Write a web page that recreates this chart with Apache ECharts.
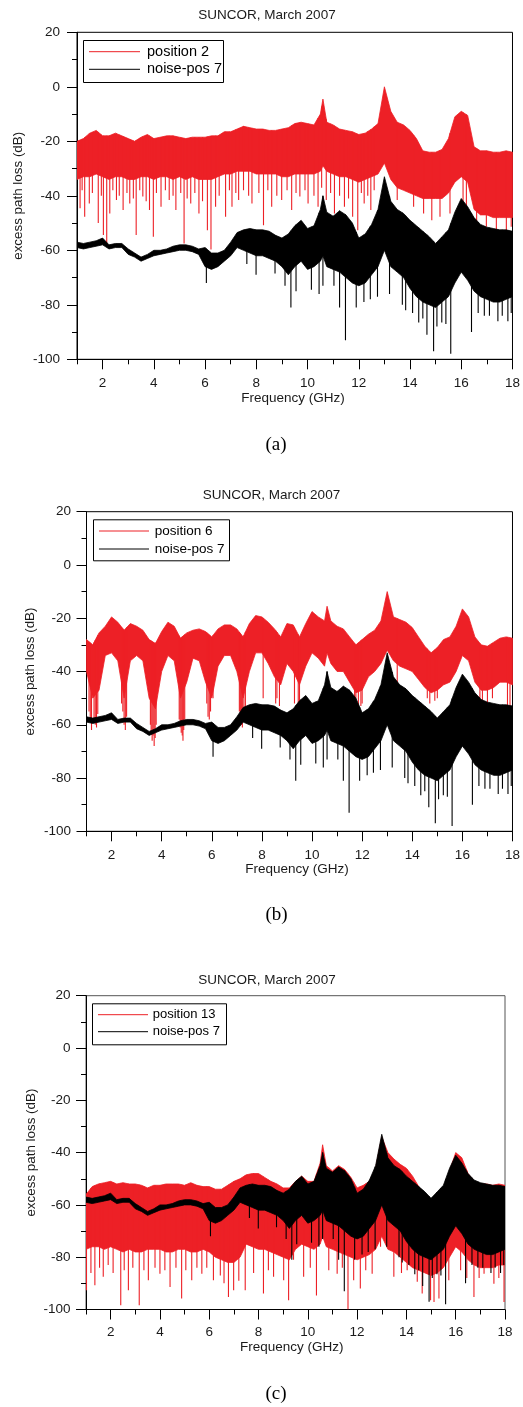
<!DOCTYPE html>
<html><head><meta charset="utf-8">
<script src="https://cdn.jsdelivr.net/npm/echarts@6/dist/echarts.min.js"></script>
<style>html,body{margin:0;padding:0;background:#fff}#c{width:523px;height:1407px}</style>
</head><body><div id="c"></div>
<script>
// ---------------- DATA ----------------
const FREQ = [1,1.25,1.5,1.75, 2,2.25,2.5,2.75, 3,3.25,3.5,3.75, 4,4.25,4.5,4.75, 5,5.25,5.5,5.75,
  6,6.25,6.5,6.75, 7,7.25,7.5,7.75, 8,8.25,8.5,8.75, 9,9.25,9.5,9.75, 10,10.25,10.5,10.6,10.75,
  11,11.25,11.5,11.75, 12,12.25,12.5,12.75, 13,13.25,13.5,13.75, 14,14.25,14.5,14.75,
  15,15.25,15.5,15.75, 16,16.25,16.5,16.75, 17,17.25,17.5,17.75, 18];
const X_MAJOR = [2,4,6,8,10,12,14,16,18];
const X_MINOR = [1,3,5,7,9,11,13,15,17];

// noise-pos 7 (same measurement in all three panels): upper / lower edge of the trace band
const NOISE_HI = [-57,-57.5,-57,-56.5, -55.5,-58,-57.5,-57.5, -59.5,-61,-62.5,-61.5, -60,-60,-59.5,-58.5,
  -58,-58,-58.5,-59.5, -59,-61,-61,-60, -57,-53.5,-52.5,-52, -52.5,-52.5,-53,-54.5, -55.5,-54,-51,-49,
  -52,-51,-45,-40,-46, -47.5,-45.5,-47,-50, -55.5,-54,-50.5,-45, -33,-42,-45,-46.5, -49,-51,-53,-55,
  -57.5,-55,-52.5,-46, -41,-44,-48,-50.5, -51.5,-52,-52.5,-52.5, -53];
const NOISE_LO = [-59,-59.5,-59,-58.5, -58,-59.5,-59,-59, -61.5,-62.5,-64,-63, -62,-61.5,-61,-60.5,
  -60,-60,-60.5,-61.5, -66,-67,-66,-64, -62,-59,-60,-61, -62,-62,-63,-64, -66,-69,-66,-64,
  -67,-66,-64,-62,-66, -67,-68,-70,-72, -73,-72,-69,-66, -60,-66,-68,-70, -74,-77,-79,-80,
  -81,-79,-77,-72, -68,-71,-75,-77, -78,-79,-79,-78, -77];
const NOISE_SPIKES = [[6.05,-72],[7.63,-65],[7.99,-69],[8.73,-68.5],[9.12,-73],[9.35,-81],[9.55,-75],
  [10.15,-74.5],[10.45,-76],[10.6,-73],[11.03,-73],[11.25,-81],[11.48,-93],[11.9,-81],[12.2,-79],
  [12.45,-78],[12.73,-77],[13.2,-76],[13.7,-80],[13.83,-82],[14.1,-83],[14.34,-86.5],[14.5,-85],
  [14.66,-91],[14.92,-97],[15.05,-88],[15.24,-86.5],[15.4,-87],[15.59,-98],[16.4,-90],[16.66,-83],
  [16.9,-84],[17.1,-84],[17.43,-86],[17.6,-84],[17.82,-86],[17.95,-83]];

// position 2
const POS2_HI = [-20,-19,-17,-16, -18,-18,-17,-18, -19,-20,-18.5,-17.5, -19,-18.5,-18,-18,
  -18.5,-19,-18.5,-18.5, -18.5,-18,-18,-16.5, -16.5,-15.5,-14.5,-15, -15.5,-15.5,-16,-16,
  -15.5,-15,-13.5,-13, -13.5,-14,-10,-4.5,-13, -14,-15.5,-16,-16.5, -17.5,-17,-15.5,-13.5,
  0,-9,-13,-14, -16,-19,-23.5,-24, -24,-23,-19,-11, -9,-10.5,-22,-23.5, -23.5,-24,-24,-23.5, -24];
const POS2_LO = [-34,-33,-33,-32, -33,-34,-33,-33, -34,-34,-33,-33, -34,-33,-33,-34, -33,-34,-33,-34,
  -34,-34,-33,-32, -32,-31,-31,-31, -32,-32,-32,-32, -33,-33,-32,-32, -32,-32,-31,-29,-31,
  -32,-33,-33,-34, -35,-34,-33,-32, -28,-34,-37,-38, -39,-40,-41,-41, -41,-41,-39,-35,
  -33,-35,-45,-47, -47,-48,-48,-48, -48];
const POS2_SPIKES = [[1.12,-44.6],[1.2,-38],[1.3,-47.7],[1.48,-42.8],[1.6,-39],[1.83,-50],[1.95,-40],
  [2.03,-54.4],[2.16,-57.5],[2.28,-46.5],[2.4,-38],[2.54,-41.5],[2.65,-40],[2.8,-45.2],[2.95,-39],
  [3.06,-42.8],[3.2,-41],[3.31,-54.4],[3.45,-38],[3.57,-40.3],[3.7,-42],[3.83,-45.2],[3.98,-55],
  [4.1,-39],[4.28,-44],[4.45,-38],[4.6,-41.5],[4.75,-40],[4.86,-45.2],[5.05,-39],[5.18,-57.5],
  [5.3,-41],[5.44,-42.8],[5.6,-39],[5.76,-46.5],[5.9,-42],[6.09,-52.6],[6.23,-59.7],[6.41,-44],
  [6.55,-40],[6.8,-47.7],[6.95,-38],[7.05,-44],[7.2,-39],[7.31,-41.5],[7.5,-38],[7.7,-40],[7.83,-42.8],
  [8.1,-39],[8.28,-50.8],[8.45,-38],[8.6,-44],[8.8,-40],[8.99,-41.5],[9.2,-38],[9.38,-45.2],[9.55,-39],
  [9.7,-40.3],[9.9,-38],[10.02,-42.8],[10.25,-40],[10.41,-44],[10.55,-37],[10.73,-41.5],[10.9,-39],
  [11.05,-46.5],[11.25,-40],[11.44,-44],[11.6,-41],[11.76,-47.7],[11.96,-52.6],[12.1,-39],[12.21,-42.8],
  [12.35,-40],[12.47,-45.2],[12.6,-38],[13.5,-41.5],[14.14,-44],[14.53,-46.5],[14.85,-49],
  [15.17,-47.7],[15.56,-46.5],[16.07,-42.8],[16.2,-55],[16.6,-50],[16.98,-51.4],[17.37,-52.6],
  [17.76,-52.6],[17.95,-51.4]];

// position 6
const POS6_HI = [-28,-30,-25.5,-23, -19.5,-21.5,-24.5,-22, -23,-24.5,-28,-29.5, -25,-21.5,-23,-27.5,
  -25.5,-24.5,-24,-25, -27,-24,-22.5,-22.5, -24,-27,-22,-19, -19.5,-21.5,-24,-27, -22,-22.5,-27,-22,
  -17.5,-19.5,-21,-15.5,-21, -23,-24,-27,-30, -28,-26,-24.5,-21, -10,-19.5,-20.5,-21.5,
  -23.5,-27,-30.5,-33, -31,-28,-27,-23, -16.5,-19.5,-27,-30, -30.5,-29,-27.5,-27, -27.5];
const POS6_LO = [-40,-50,-47,-34, -33,-36,-50,-36, -34,-36,-50,-54, -40,-34,-36,-50, -44,-35,-36,-44,
  -50,-38,-34,-34, -40,-50,-40,-33, -33,-37,-42,-45, -37,-40,-45,-38, -33,-35,-38,-33,-37,
  -40,-40,-44,-48, -47,-42,-40,-37, -32,-36,-38,-39, -40,-43,-46,-48, -47,-45,-44,-40,
  -34,-36,-44,-47, -47,-46,-44,-44, -45];
const POS6_SPIKES = [[1.1,-55],[1.15,-58],[1.2,-62],[1.3,-58],[1.35,-60],[1.4,-61],[1.45,-56],[2.4,-52],
  [2.45,-55],[2.5,-60],[2.55,-62],[2.6,-57],[3.55,-60],[3.58,-63],[3.62,-66],[3.66,-64],[3.7,-68],
  [3.74,-65],[3.78,-60],[4.7,-58],[4.74,-61],[4.78,-63],[4.82,-64],[4.85,-66],[4.88,-62],[4.92,-58],
  [5.8,-52],[5.85,-57],[5.9,-58],[5.95,-55],[6.05,-50],[7.1,-55],[7.14,-57],[7.18,-60],[7.22,-61],
  [7.28,-58],[7.34,-54],[8.05,-50],[8.55,-52],[8.6,-50],[8.7,-53],[9.3,-52],[9.45,-55],[9.5,-53],
  [11.7,-52],[11.75,-54],[11.85,-55],[11.95,-53],[12.0,-52],[13.4,-48],[14.6,-50],[14.7,-52],
  [14.9,-51],[15.0,-50],[16.7,-50],[16.8,-51],[17.0,-52],[17.2,-50],[17.8,-55],[17.9,-53]];

// position 13
const POS13_HI = [-56,-53,-52,-51.5, -51,-52,-51.5,-52, -52,-52.5,-53.5,-52.5, -52.5,-52,-52,-52,
  -52.5,-51.5,-52.5,-53, -53,-54,-54,-52.5, -51,-50,-48.5,-48, -48,-49.5,-51,-52, -53.5,-53.5,-51,-49,
  -51,-51,-44,-37,-45, -47,-45,-46.5,-49.5, -53.5,-52.5,-51,-46, -34,-40,-42.5,-44.5,
  -46,-49,-53,-56, -58,-57,-55,-47, -40,-42,-48,-51, -52,-52,-52.5,-52, -52.5];
const POS13_LO = [-77,-76,-76,-77, -76,-77,-78,-77, -78,-78,-77,-77, -77,-78,-78,-77, -77,-78,-78,-77,
  -78,-80,-81,-82, -82,-80,-75,-76, -77,-77,-78,-79, -80,-81,-77,-75, -76,-77,-75,-72,-76,
  -77,-78,-79,-80, -81,-80,-79,-77, -72,-77,-78,-80, -82,-84,-85,-86, -87,-86,-84,-80,
  -76,-78,-81,-83, -84,-84,-84,-83, -83];
const POS13_SPIKES = [[1.02,-92.6],[1.2,-86],[1.36,-90.7],[1.55,-84],[1.7,-87.5],[1.9,-83],[2.1,-86],
  [2.41,-98.4],[2.55,-85],[2.72,-92.6],[2.9,-84],[3.16,-98.4],[3.35,-85],[3.53,-88.8],[3.8,-84],
  [4.0,-86.3],[4.2,-85],[4.41,-91.4],[4.65,-84],[4.88,-95.8],[5.05,-85],[5.29,-88.8],[5.5,-84],
  [5.7,-86.3],[5.9,-84],[6.17,-88.8],[6.45,-87],[6.6,-90],[6.78,-95.2],[6.99,-92.6],[7.2,-89],
  [7.46,-92.6],[7.8,-86],[8.2,-93.9],[8.4,-85],[8.61,-87.5],[9.02,-88.8],[9.22,-96.5],[9.42,-81],
  [9.83,-87.5],[10.1,-84],[10.35,-94.6],[10.85,-85],[11.19,-86.3],[11.4,-84],[11.63,-100],
  [11.86,-88.8],[12.13,-92],[12.35,-85],[12.61,-86.3],[12.95,-76],[13.49,-87.5],[13.8,-86],
  [14.03,-85],[14.44,-89.4],[14.64,-93.9],[14.98,-96.5],[15.12,-97.1],[15.32,-95.8],[15.72,-88.8],
  [16.2,-85],[16.45,-88],[16.74,-95.2],[16.95,-88],[17.15,-86.3],[17.55,-90.2],[17.75,-88],[17.96,-97.1]];

// ---------------- CHART ----------------
const RED = '#ed2026';
const BLACK = '#000';
const SANS = '"Liberation Sans", Arial, sans-serif';
const SERIF = '"Liberation Serif", "Times New Roman", serif';

const PANELS = [
  { grid:{left:77, top:32.3, width:439, height:327}, name:'position 2', hi:POS2_HI, lo:POS2_LO, sp:POS2_SPIKES,
    title:[267,15.7], ylab:[18], xlab:[293,398.3], cap:['(a)',276,445], lblMargin:17, ylMargin:17, border:'#000',
    leg:{x:83,y:40,w:140,h:42,l0:89,l1:140,r0:51.7,r1:69.3,tx:147,fs:14.5} },
  { grid:{left:86.5, top:511.7, width:428.5, height:319.6}, name:'position 6', hi:POS6_HI, lo:POS6_LO, sp:POS6_SPIKES,
    title:[271.5,495], ylab:[30], xlab:[297,869.3], cap:['(b)',276.5,915], lblMargin:17, ylMargin:15.5, border:'#000',
    leg:{x:93,y:519.3,w:136,h:41,l0:99,l1:149,r0:531,r1:549,tx:154.7,fs:13.5} },
  { grid:{left:86, top:995.7, width:419, height:313.8}, name:'position 13', hi:POS13_HI, lo:POS13_LO, sp:POS13_SPIKES,
    title:[267,980], ylab:[31], xlab:[291.7,1347.3], cap:['(c)',276,1394], lblMargin:16, ylMargin:15.5, border:'#555',
    leg:{x:92,y:1003.3,w:134,h:41,l0:98,l1:148,r0:1014.7,r1:1031.7,tx:152.7,fs:13} }
];

function interp(arr, f) {
  for (let i = 0; i < FREQ.length - 1; i++) {
    if (f >= FREQ[i] && f <= FREQ[i+1]) {
      const t = (f - FREQ[i]) / (FREQ[i+1] - FREQ[i]);
      return arr[i] + t * (arr[i+1] - arr[i]);
    }
  }
  return arr[arr.length-1];
}

// whole band drawn as one polygon (upper edge left->right, lower edge right->left)
function bandSeries(name, color, idx, hi, lo) {
  return {
    type:'custom', name, xAxisIndex: idx*2, yAxisIndex: idx, clip:true, silent:true,
    itemStyle:{color},
    data: FREQ.map((f,i)=>[f, hi[i], lo[i]]),
    renderItem: (params, api) => {
      if (params.dataIndexInside !== 0) return null;
      const n = params.dataInsideLength;
      const top = [], bot = [];
      for (let j = 0; j < n; j++) {
        const f = api.value(0, j);
        top.push(api.coord([f, api.value(1, j)]));
        bot.push(api.coord([f, api.value(2, j)]));
      }
      return { type:'polygon', shape:{ points: top.concat(bot.reverse()) },
        style:{ fill:color, stroke:color, lineWidth:0.8, lineJoin:'round' } };
    }
  };
}

function spikeSeries(name, color, idx, hi, spikes) {
  return {
    type:'custom', name, xAxisIndex: idx*2, yAxisIndex: idx, clip:true, silent:true,
    itemStyle:{color},
    data: spikes,
    renderItem: (params, api) => {
      const f = api.value(0), v = api.value(1);
      const a = api.coord([f, interp(hi, f)]), b = api.coord([f, v]);
      return { type:'line', shape:{x1:a[0], y1:a[1], x2:b[0], y2:b[1]},
        style:{ stroke:color, lineWidth:1.1 } };
    }
  };
}

const grids = [], xAxes = [], yAxes = [], series = [], graphics = [];
PANELS.forEach((p, k) => {
  grids.push(Object.assign({ show:true, borderColor:p.border, borderWidth:1, backgroundColor:'transparent' }, p.grid));
  xAxes.push({ gridIndex:k, type:'value', position:'bottom', min:1, max:18,
    axisLine:{ show:true, onZero:false, lineStyle:{ color:'#000', width:1 } },
    axisTick:{ show:true, customValues:X_MAJOR, length:10, lineStyle:{ color:'#000' } },
    axisLabel:{ show:true, customValues:X_MAJOR, margin:p.lblMargin, color:'#1a1a1a', fontSize:13.5, fontFamily:SANS },
    splitLine:{ show:false } });
  xAxes.push({ gridIndex:k, type:'value', position:'bottom', min:1, max:18,
    axisLine:{ show:false, onZero:false },
    axisTick:{ show:true, customValues:X_MINOR, length:5, lineStyle:{ color:'#000' } },
    axisLabel:{ show:false }, splitLine:{ show:false } });
  yAxes.push({ gridIndex:k, type:'value', min:-100, max:20, interval:20,
    axisLine:{ show:true, onZero:false, lineStyle:{ color:'#000', width:1 } },
    axisTick:{ show:true, length:10, lineStyle:{ color:'#000' } },
    minorTick:{ show:true, splitNumber:2, length:5, lineStyle:{ color:'#000' } },
    axisLabel:{ margin:p.ylMargin, color:'#1a1a1a', fontSize:13.5, fontFamily:SANS },
    splitLine:{ show:false } });

  series.push(bandSeries(p.name, RED, k, p.hi, p.lo));
  series.push(spikeSeries(p.name, RED, k, p.hi, p.sp));
  series.push(bandSeries('noise-pos 7', BLACK, k, NOISE_HI, NOISE_LO));
  series.push(spikeSeries('noise-pos 7', BLACK, k, NOISE_HI, NOISE_SPIKES));

  const g = p.grid;
  graphics.push({ type:'text', x:p.title[0], y:p.title[1],
    style:{ text:'SUNCOR, March 2007', align:'center', verticalAlign:'middle', fill:'#1a1a1a', font:'13.5px ' + SANS } });
  graphics.push({ type:'text', x:p.ylab[0], y:g.top + g.height/2, rotation:Math.PI/2,
    style:{ text:'excess path loss (dB)', align:'center', verticalAlign:'middle', fill:'#1a1a1a', font:'13.4px ' + SANS } });
  graphics.push({ type:'text', x:p.xlab[0], y:p.xlab[1],
    style:{ text:'Frequency (GHz)', align:'center', verticalAlign:'middle', fill:'#1a1a1a', font:'13.5px ' + SANS } });
  graphics.push({ type:'text', x:p.cap[1], y:p.cap[2],
    style:{ text:p.cap[0], align:'center', verticalAlign:'middle', fill:'#000', font:'19px ' + SERIF } });
  const L = p.leg;
  graphics.push({ type:'rect', shape:{ x:L.x+0.5, y:L.y+0.5, width:L.w, height:L.h },
    style:{ fill:'#fff', stroke:'#000', lineWidth:1 }, z:100 });
  graphics.push({ type:'line', shape:{ x1:L.l0, y1:L.r0, x2:L.l1, y2:L.r0 }, style:{ stroke:RED, lineWidth:1 }, z:101 });
  graphics.push({ type:'line', shape:{ x1:L.l0, y1:L.r1, x2:L.l1, y2:L.r1 }, style:{ stroke:BLACK, lineWidth:1 }, z:101 });
  graphics.push({ type:'text', x:L.tx, y:L.r0, style:{ text:p.name, align:'left', verticalAlign:'middle', fill:'#000', font:L.fs + 'px ' + SANS }, z:101 });
  graphics.push({ type:'text', x:L.tx, y:L.r1, style:{ text:'noise-pos 7', align:'left', verticalAlign:'middle', fill:'#000', font:L.fs + 'px ' + SANS }, z:101 });
});

const chart = echarts.init(document.getElementById('c'), null, { renderer:'canvas' });
chart.setOption({
  animation:false,
  backgroundColor:'#fff',
  grid: grids, xAxis: xAxes, yAxis: yAxes, series,
  graphic: { elements: graphics }
});
</script>
</body></html>
